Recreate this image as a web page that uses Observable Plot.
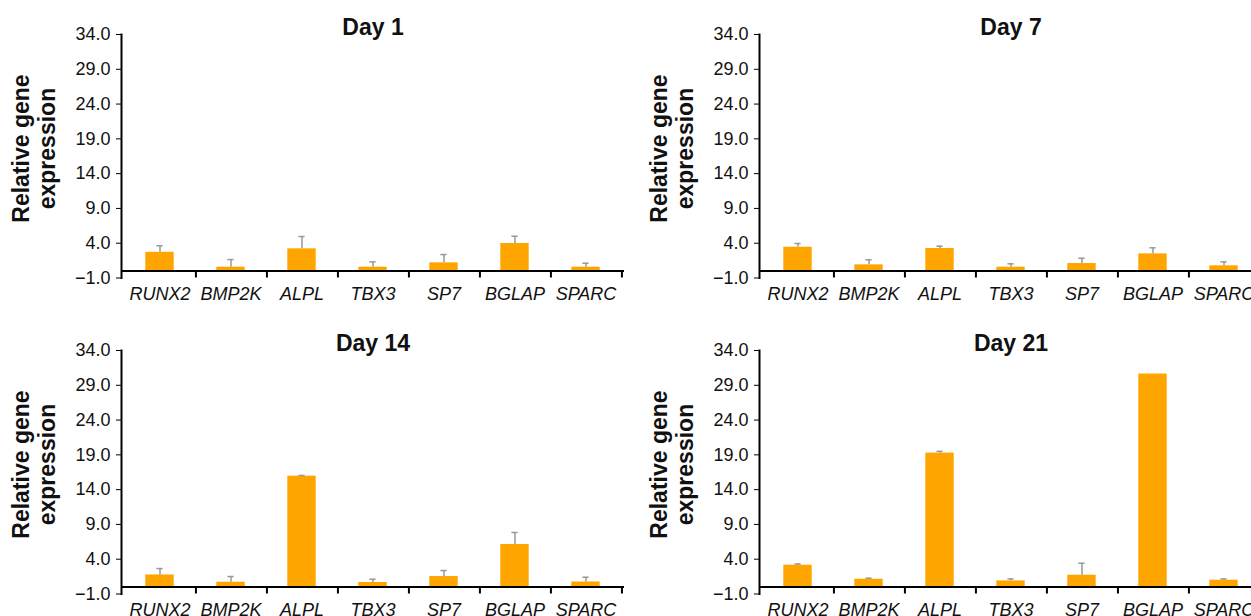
<!DOCTYPE html>
<html><head><meta charset="utf-8">
<script src="https://cdn.jsdelivr.net/npm/d3@7"></script>
<script src="https://cdn.jsdelivr.net/npm/@observablehq/plot@0.6"></script>
<style>
body{margin:0;background:#fff;}
#wrap{position:relative;width:1251px;height:616px;overflow:hidden;background:#fff;font-family:"Liberation Sans",Arial,sans-serif;}
.panel{position:absolute;width:640px;height:310px;}
.panel svg{max-width:none !important;}
</style></head><body><div id="wrap"></div>
<script>
const genes = ["RUNX2","BMP2K","ALPL","TBX3","SP7","BGLAP","SPARC"];
const titles = ["Day 1","Day 7","Day 14","Day 21"];
const yTicks = [-1, 4, 9, 14, 19, 24, 29, 34];
const yLabel = "Relative gene\nexpression";

const day1Mean  = [2.70, 0.55, 3.19, 0.55, 1.18, 3.96, 0.55];
const day1Err   = [0.93, 1.10, 1.77, 0.77, 1.19, 1.04, 0.57];
const day7Mean  = [3.42, 0.89, 3.24, 0.55, 1.08, 2.47, 0.75];
const day7Err   = [0.54, 0.72, 0.33, 0.49, 0.76, 0.87, 0.57];
const day14Mean = [1.74, 0.69, 15.94, 0.65, 1.51, 6.12, 0.73];
const day14Err  = [0.92, 0.82, 0.10, 0.47, 0.86, 1.72, 0.68];
const day21Mean = [3.14, 1.12, 19.25, 0.88, 1.70, 30.62, 0.98];
const day21Err  = [0.18, 0.15, 0.25, 0.29, 1.72, 0.00, 0.19];

const means = [day1Mean, day7Mean, day14Mean, day21Mean];
const errs = [day1Err, day7Err, day14Err, day21Err];
const pos = [[0,0],[638,0],[0,316],[638,316]];

const W = 640, H = 310, ML = 121, MR = 16, MT = 34, MB = 32.5;
const step = (W - ML - MR) / genes.length;
const font = "Liberation Sans, Arial, sans-serif";
const fmt = d => (d < 0 ? "\u2212" : "") + Math.abs(d).toFixed(1);

function panel(title, m, e) {
  const data = genes.map((g, i) => ({gene: g, mean: m[i], top: m[i] + e[i]}));
  return Plot.plot({
    width: W, height: H, marginLeft: ML, marginRight: MR, marginTop: MT, marginBottom: MB,
    style: {fontFamily: font, fontSize: "18px", color: "#111", background: "transparent", overflow: "visible", maxWidth: "none"},
    x: {domain: genes, padding: 0, axis: null},
    y: {domain: [-1, 34], axis: null},
    marks: [
      Plot.barY(data, {x: "gene", y: "mean", fill: "#FFA500", insetLeft: 21.3, insetRight: 21.3}),
      Plot.ruleX(data.filter(d => d.top > d.mean), {x: "gene", y1: "mean", y2: "top", stroke: "#999", strokeWidth: 1.5}),
      Plot.tickY(data.filter(d => d.top > d.mean), {x: "gene", y: "top", stroke: "#999", strokeWidth: 1.5, insetLeft: 32.4, insetRight: 32.4}),
      Plot.ruleY([0], {stroke: "#000", strokeWidth: 2}),
      Plot.ruleX(genes, {x: d => d, dx: step / 2, y1: 0, y2: -1, stroke: "#000", strokeWidth: 2}),
      Plot.frame({anchor: "left", stroke: "#000", strokeWidth: 2}),
      Plot.axisY({ticks: yTicks, tickFormat: fmt, tickSize: 5, tickPadding: 6, fontSize: 18, label: null, stroke: "#000"}),
      Plot.text(genes, {x: d => d, frameAnchor: "bottom", lineAnchor: "middle", dy: 16.7, fontStyle: "italic", fontSize: 18, fill: "#111"}),
      Plot.text([title], {frameAnchor: "top", lineAnchor: "middle", dy: -7, fontWeight: "bold", fontSize: 23, fill: "#111"}),
      Plot.text([yLabel], {frameAnchor: "left", textAnchor: "middle", rotate: -90, dx: -88, dy: -7.7, lineAnchor: "middle", lineHeight: 1.15, fontWeight: "bold", fontSize: 23, fill: "#111"})
    ]
  });
}

const wrap = document.getElementById("wrap");
titles.forEach((t, i) => {
  const div = document.createElement("div");
  div.className = "panel";
  div.style.left = pos[i][0] + "px";
  div.style.top = pos[i][1] + "px";
  div.appendChild(panel(t, means[i], errs[i]));
  wrap.appendChild(div);
});
</script></body></html>
